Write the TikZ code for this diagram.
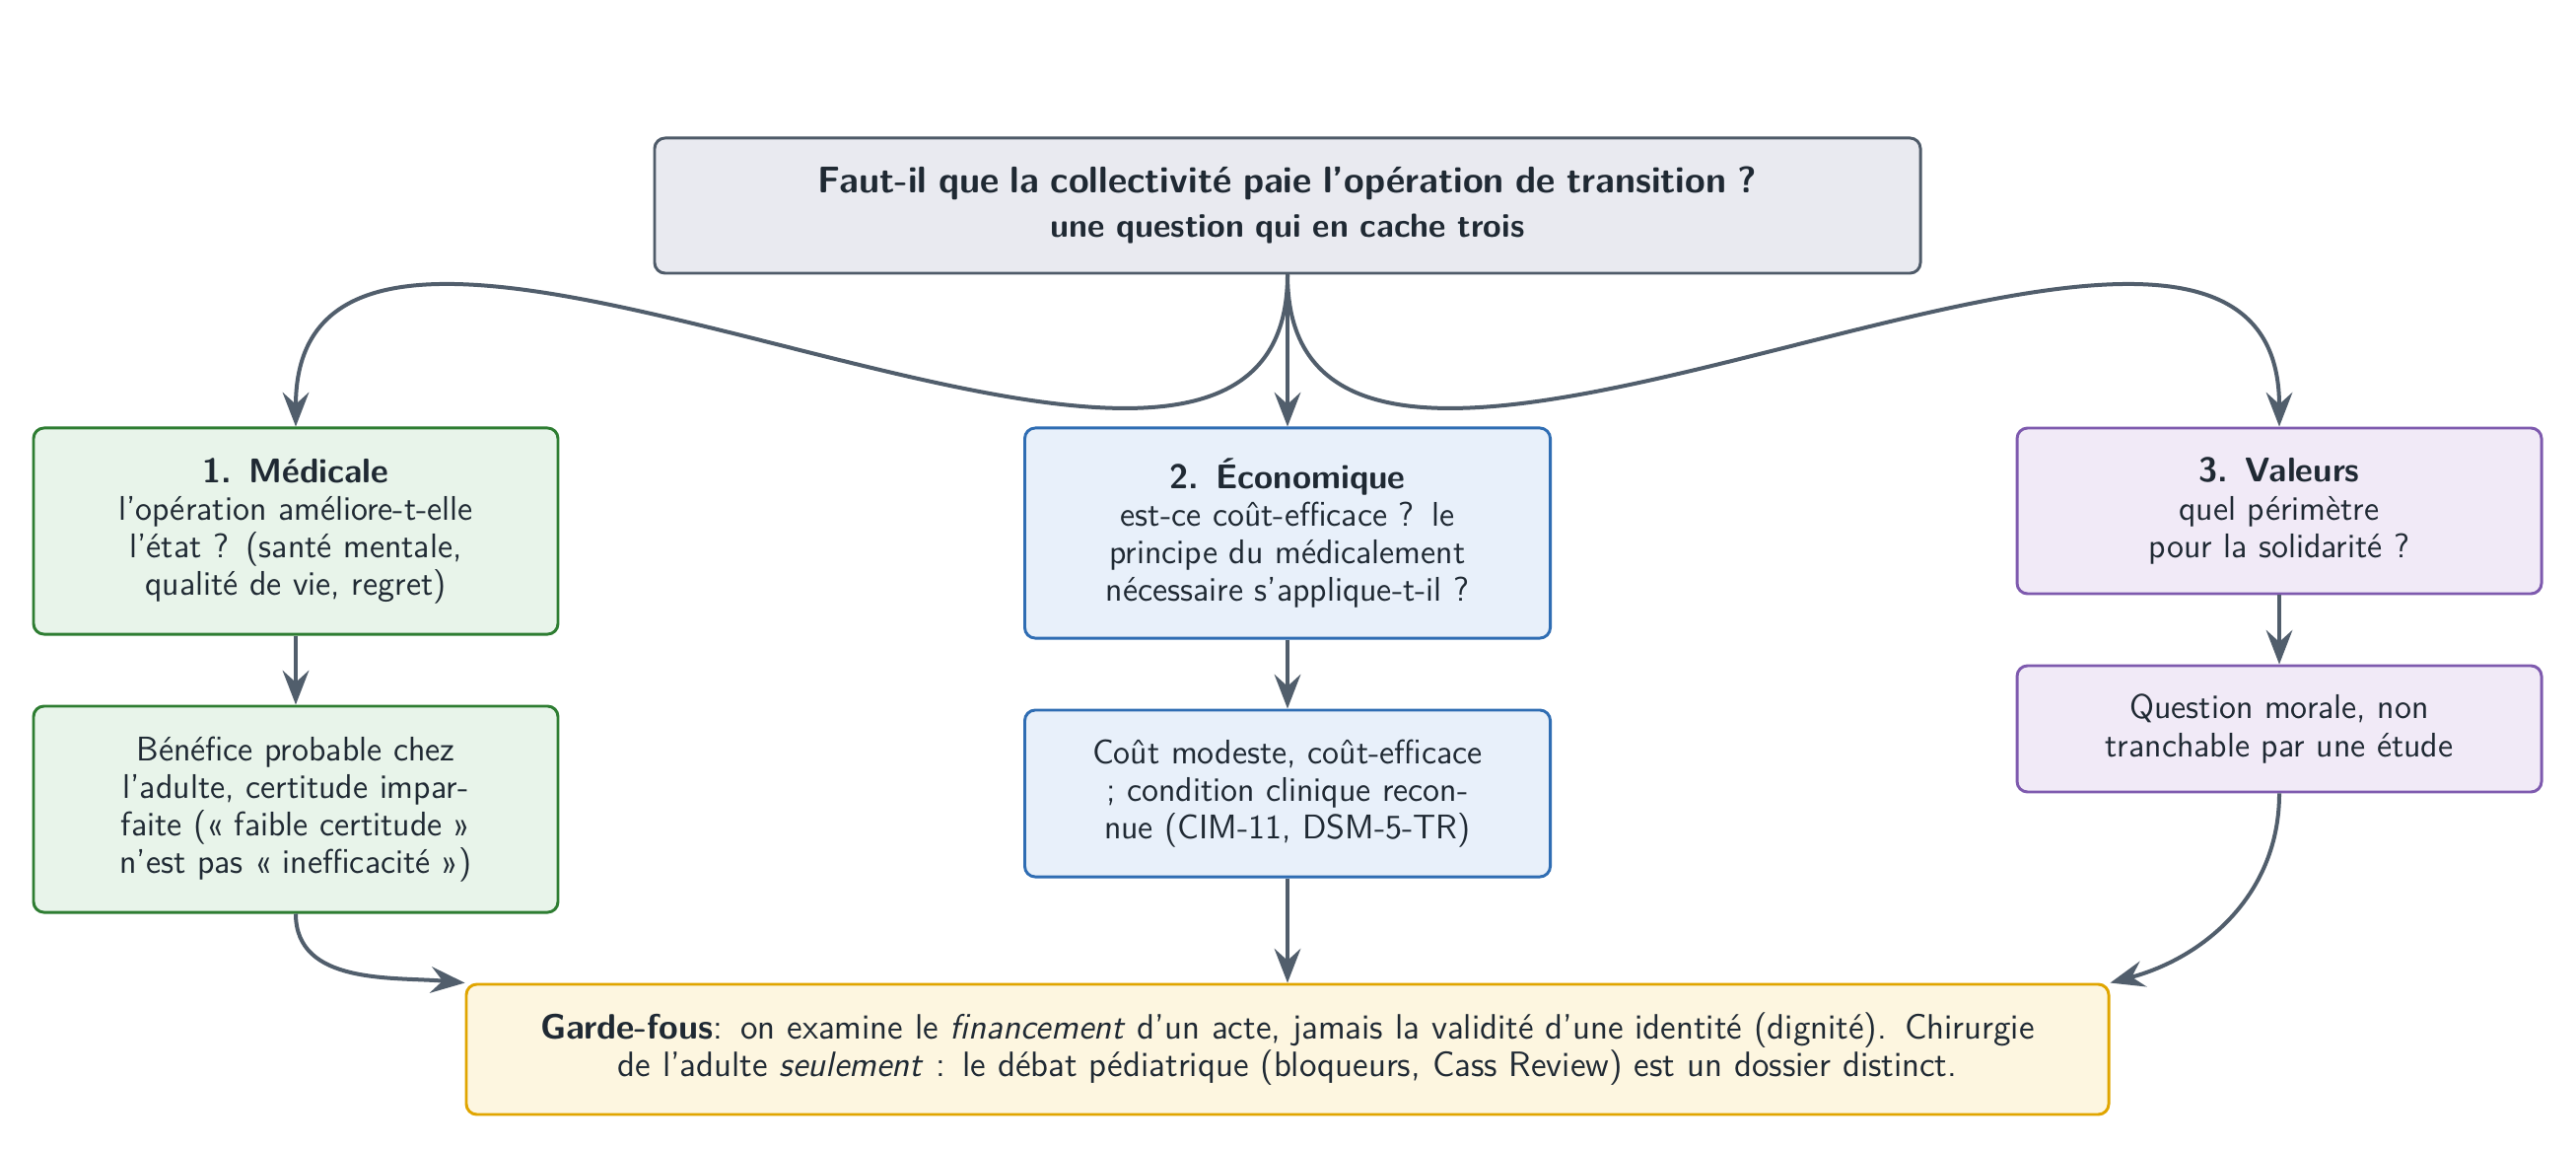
\documentclass[tikz,border=0pt]{standalone}
\usetikzlibrary{arrows.meta}
\definecolor{ink}{HTML}{1F2933}
\definecolor{arr}{HTML}{515E6C}
\definecolor{topfill}{HTML}{E9EAF0}
\definecolor{topdraw}{HTML}{4F5B69}
\definecolor{gfill}{HTML}{E8F4EA}
\definecolor{gdraw}{HTML}{2E7D32}
\definecolor{bfill}{HTML}{E8F0FA}
\definecolor{bdraw}{HTML}{2F6DB3}
\definecolor{pfill}{HTML}{F1EAF7}
\definecolor{pdraw}{HTML}{7E5AAE}
\definecolor{yfill}{HTML}{FDF6E0}
\definecolor{ydraw}{HTML}{E0A500}
\begin{document}
\begin{tikzpicture}[x=0.375pt,y=0.375pt,
  box/.style={rectangle, rounded corners=4pt, line width=1.1pt, inner sep=0pt,
    align=center, text=ink, font=\sffamily\fontsize{13}{14.3}\selectfont},
  conn/.style={draw=arr, line width=1.5pt, -{Stealth[length=13pt,width=10pt,inset=4.5pt]}},
]
\useasboundingbox (0,0) rectangle (2613,-1165);
\fill[white] (0,0) rectangle (2613,-1165);

\node[box, fill=topfill, draw=topdraw, minimum width=481.5pt, minimum height=51.4pt, text width=470pt] (top) at (1306,-208.5)
  {{\fontsize{14.1}{15.5}\selectfont\bfseries Faut-il que la collectivité paie l'opération de transition ?}\\[2.6pt]
   {\fontsize{12.7}{14.3}\selectfont\bfseries une question qui en cache trois}};

\node[box, fill=gfill, draw=gdraw, minimum width=199.5pt, minimum height=78.4pt, text width=192pt] (m1) at (300,-538.5)
  {{\bfseries 1. Médicale}\\ l'opération améliore-t-elle\\ l'état ? (santé mentale,\\ qualité de vie, regret)};
\node[box, fill=gfill, draw=gdraw, minimum width=199.5pt, minimum height=78.4pt, text width=192pt] (m1b) at (300,-820.5)
  {Bénéfice probable chez\\ l'adulte, certitude impar-\\ faite (« faible certitude »\\ n'est pas « inefficacité »)};

\node[box, fill=bfill, draw=bdraw, minimum width=199.9pt, minimum height=79.9pt, text width=192pt] (m2) at (1306,-540.5)
  {{\bfseries 2. Économique}\\ est-ce coût-efficace ? le\\ principe du médicalement\\ nécessaire s'applique-t-il ?};
\node[box, fill=bfill, draw=bdraw, minimum width=199.9pt, minimum height=63.4pt, text width=192pt] (m2b) at (1306,-804.5)
  {Coût modeste, coût-efficace\\ ; condition clinique recon-\\ nue (CIM-11, DSM-5-TR)};

\node[box, fill=pfill, draw=pdraw, minimum width=199.5pt, minimum height=63pt, text width=192pt] (m3) at (2312,-518)
  {{\bfseries 3. Valeurs}\\ quel périmètre\\ pour la solidarité ?};
\node[box, fill=pfill, draw=pdraw, minimum width=199.5pt, minimum height=48pt, text width=192pt] (m3b) at (2312,-739)
  {Question morale, non\\ tranchable par une étude};

\node[box, fill=yfill, draw=ydraw, minimum width=624.75pt, minimum height=49.5pt, text width=615pt,
      font=\sffamily\fontsize{13.4}{14.3}\selectfont] (bot) at (1306,-1064)
  {{\bfseries Garde-fous}: on examine le \textit{financement} d'un acte, jamais la validité d'une identité (dignité). Chirurgie\\
   de l'adulte \textit{seulement} : le débat pédiatrique (bloqueurs, Cass Review) est un dossier distinct.};

\draw[conn] (top.south) to[out=-90,in=90] (m1.north);
\draw[conn] (top.south) -- (m2.north);
\draw[conn] (top.south) to[out=-90,in=90] (m3.north);
\draw[conn] (m1.south) -- (m1b.north);
\draw[conn] (m2.south) -- (m2b.north);
\draw[conn] (m3.south) -- (m3b.north);
\draw[conn] (m1b.south) to[out=-90,in=175] (bot.north west);
\draw[conn] (m2b.south) -- (m2b.south |- bot.north);
\draw[conn] (m3b.south) to[out=-90,in=15] (bot.north east);
\end{tikzpicture}
\end{document}
